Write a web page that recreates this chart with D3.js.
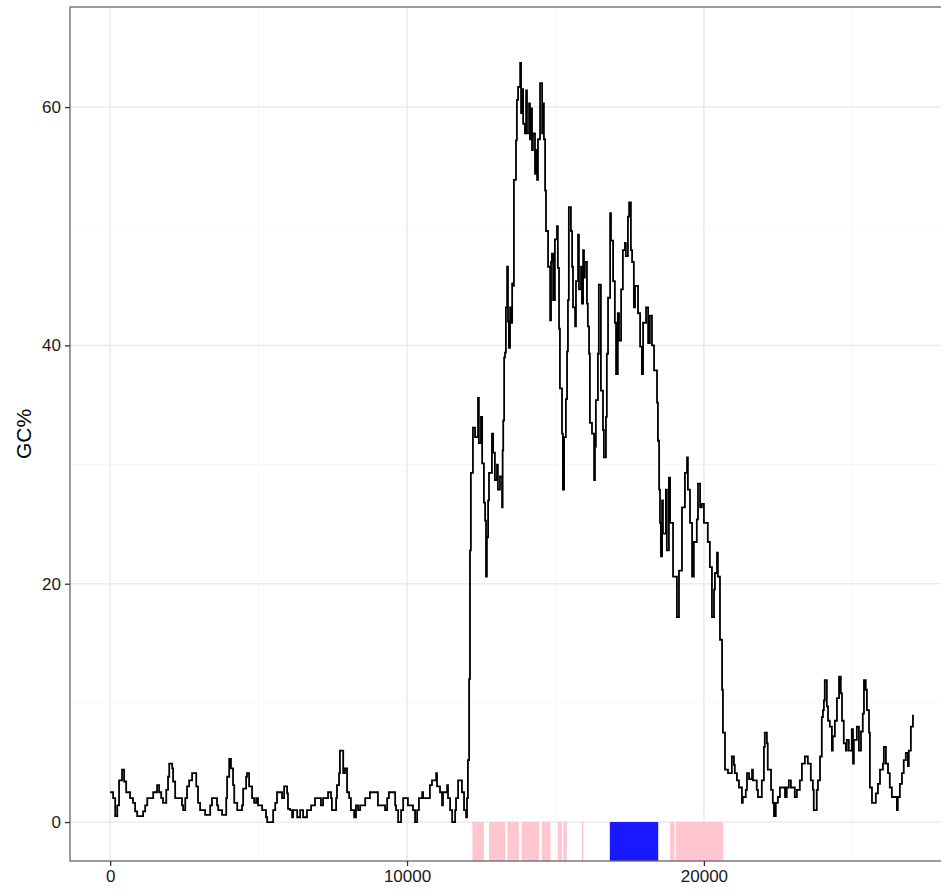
<!DOCTYPE html>
<html><head><meta charset="utf-8">
<script src="https://cdn.jsdelivr.net/npm/d3@7"></script>
<style>body{margin:0;background:#fff}svg{display:block}</style></head>
<body>
<svg id="c" width="941" height="894"></svg>
<script>
// ---- data ----
const pos = [0,100,170,240,300,400,470,540,670,770,840,910,1110,1180,1250,1450,1580,1650,1720,1780,1890,1950,1990,2090,2120,2190,2420,2460,2530,2590,2660,2760,2900,2960,3030,3200,3370,3430,3600,3640,3770,3910,3940,4010,4070,4140,4180,4280,4440,4480,4580,4610,4680,4780,4850,4920,4980,5120,5250,5290,5490,5560,5620,5790,5860,5960,5990,6060,6130,6160,6300,6400,6500,6630,6770,6900,7100,7170,7340,7440,7470,7610,7640,7710,7740,7850,7910,7980,8050,8110,8220,8280,8350,8420,8590,8750,9020,9260,9330,9390,9600,9630,9700,9800,9870,10030,10200,10270,10340,10400,10510,10540,10770,10840,10980,11010,11110,11180,11210,11350,11380,11450,11520,11620,11650,11720,11850,11920,11990,12020,12050,12090,12120,12150,12220,12290,12390,12420,12490,12530,12590,12630,12660,12690,12730,12760,12860,12900,12960,13030,13060,13130,13200,13220,13240,13270,13300,13330,13370,13400,13430,13470,13500,13540,13570,13600,13670,13700,13740,13810,13840,13870,13910,13970,14010,14040,14110,14140,14180,14210,14240,14310,14340,14380,14410,14480,14550,14580,14610,14650,14680,14750,14820,14850,14880,14920,14980,15050,15080,15120,15150,15220,15250,15290,15350,15390,15420,15450,15520,15560,15590,15660,15690,15760,15790,15860,15890,15930,15960,15990,16060,16090,16130,16160,16230,16300,16330,16360,16430,16460,16530,16600,16630,16700,16730,16770,16840,16870,16940,17000,17040,17100,17140,17210,17270,17340,17370,17440,17480,17540,17580,17640,17680,17780,17850,17910,17950,18050,18120,18180,18250,18320,18420,18450,18490,18520,18550,18590,18620,18720,18750,18820,18860,18960,19090,19160,19260,19360,19430,19460,19530,19600,19660,19760,19800,19870,19930,20000,20130,20200,20270,20340,20370,20440,20470,20540,20610,20640,20710,20810,20940,21010,21040,21110,21180,21280,21310,21410,21450,21520,21620,21650,21780,21820,21950,22020,22050,22120,22150,22260,22320,22360,22420,22490,22560,22730,22790,22860,22930,23060,23130,23230,23300,23400,23500,23600,23670,23700,23800,23840,23910,23970,24010,24040,24070,24140,24180,24240,24310,24340,24410,24480,24550,24610,24650,24710,24780,24810,24880,24980,25020,25050,25150,25220,25290,25350,25390,25450,25490,25560,25590,25660,25790,25860,25930,26030,26060,26130,26200,26260,26330,26500,26530,26600,26670,26730,26800,26870,26900,26970,27040];
const gc = [2.5,2.0,0.5,1.4,3.5,4.4,3.4,2.5,2.0,1.6,0.9,0.5,0.9,1.4,2.0,2.5,3.1,2.5,2.0,1.6,2.7,3.8,4.9,4.5,3.4,2.0,1.4,1.0,2.0,3.0,3.5,4.1,3.0,1.6,1.0,0.6,1.4,2.0,1.4,1.0,0.6,2.0,3.8,5.3,4.5,3.1,1.6,1.0,1.4,2.8,3.8,4.1,3.0,2.0,1.6,2.0,1.4,1.0,0.4,0.0,1.0,1.6,2.5,2.0,3.0,2.4,1.1,1.0,0.4,1.0,0.4,1.0,0.4,1.0,1.4,2.0,1.4,2.0,2.5,2.0,1.0,2.0,3.1,4.1,6.0,4.1,4.5,2.5,2.0,1.0,0.4,1.4,1.0,1.4,2.0,2.5,1.4,1.0,2.0,2.5,1.4,1.0,0.0,1.0,2.0,1.4,1.0,0.0,1.0,2.0,2.5,2.0,3.1,3.5,4.1,3.0,2.5,1.4,2.5,3.1,2.0,1.0,0.0,1.0,2.0,3.5,2.5,1.0,0.4,2.0,5.2,12.0,22.8,29.3,33.1,32.3,35.6,31.8,34.0,30.1,26.8,25.3,20.6,23.9,27.0,29.3,32.6,31.0,28.7,30.0,27.9,29.0,26.4,31.2,33.7,39.0,39.4,43.2,46.6,42.0,39.8,43.2,41.9,45.2,45.0,53.9,57.2,60.6,61.7,63.7,59.5,61.5,58.6,57.8,61.4,57.8,60.3,57.3,59.9,56.4,57.8,54.4,56.4,53.9,57.3,62.0,57.8,60.3,57.3,53.0,49.6,46.6,42.1,47.0,47.7,43.8,48.9,50.0,46.5,41.4,36.4,32.6,27.9,32.3,35.5,39.5,43.8,51.6,49.6,46.6,43.2,41.6,45.4,49.3,44.7,46.6,43.5,48.0,45.7,47.0,43.5,41.6,39.3,33.5,32.6,28.7,31.5,35.4,39.3,45.1,36.2,32.9,30.6,34.0,39.3,44.0,51.1,48.8,45.4,41.9,37.6,42.7,40.4,44.7,48.0,48.6,47.5,50.8,52.0,48.0,47.0,43.2,45.0,42.7,39.9,37.6,41.9,43.2,40.2,42.5,40.0,37.9,35.2,32.0,27.9,25.1,22.3,27.0,24.2,27.9,22.8,28.9,25.1,20.6,17.2,21.1,26.4,29.3,30.6,27.9,25.1,20.6,23.5,25.4,28.4,26.4,26.7,25.1,23.5,21.4,17.2,19.5,20.9,22.6,20.6,15.3,11.1,7.5,4.4,4.1,5.5,4.8,4.1,3.5,2.9,1.6,2.1,2.7,4.1,3.6,4.4,3.5,2.7,2.1,3.5,6.3,7.5,6.6,4.4,2.7,1.6,0.5,1.6,2.1,2.9,2.1,2.9,3.5,2.9,2.1,2.7,3.5,4.9,5.5,4.9,3.5,2.7,1.0,2.7,3.5,5.5,8.8,9.4,10.2,11.9,9.7,8.5,8.0,6.0,7.2,8.5,10.4,12.2,10.8,8.5,6.6,6.0,6.9,6.0,7.8,4.9,6.9,8.0,6.0,7.6,9.1,11.9,11.1,9.4,7.5,2.9,1.6,2.4,3.2,4.4,4.9,6.3,4.9,4.1,2.9,2.1,1.0,2.1,3.2,4.1,5.2,5.8,4.7,6.0,8.0,9.0];
const pinkStart = [12200,12760,13380,13860,14540,15070,15260,15890,18860,19060];
const pinkEnd   = [12590,13310,13770,14450,14830,15220,15380,15940,19010,20650];
const blueStart = [16830];
const blueEnd   = [18460];
const xMajor = [0,10000,20000];
const xMinor = [5000,15000,25000];
const yMajor = [0,20,40,60];
const yMinor = [10,30,50];
const yTitle = "GC%";

// ---- layout ----
const L=70, T=7, R=953, B=861;
const svg = d3.select("#c");
const x = d3.scaleLinear().domain([-1352, 28389]).range([L, R]);
const y = d3.scaleLinear().domain([-3.27, 68.4]).range([B, T]);

svg.append("defs").append("clipPath").attr("id","clip")
  .append("rect").attr("x",L).attr("y",T).attr("width",R-L).attr("height",B-T);

const g = svg.append("g").attr("clip-path","url(#clip)");
g.append("rect").attr("x",L).attr("y",T).attr("width",R-L).attr("height",B-T).attr("fill","#fff");

// grid
g.selectAll(".xmin").data(xMinor).join("line")
  .attr("x1",d=>x(d)).attr("x2",d=>x(d)).attr("y1",T).attr("y2",B)
  .attr("stroke","#f5f5f5").attr("stroke-width",0.8);
g.selectAll(".ymin").data(yMinor).join("line")
  .attr("y1",d=>y(d)).attr("y2",d=>y(d)).attr("x1",L).attr("x2",R)
  .attr("stroke","#f5f5f5").attr("stroke-width",0.8);
g.selectAll(".xmaj").data(xMajor).join("line")
  .attr("x1",d=>x(d)).attr("x2",d=>x(d)).attr("y1",T).attr("y2",B)
  .attr("stroke","#ebebeb").attr("stroke-width",1.5);
g.selectAll(".ymaj").data(yMajor).join("line")
  .attr("y1",d=>y(d)).attr("y2",d=>y(d)).attr("x1",L).attr("x2",R)
  .attr("stroke","#ebebeb").attr("stroke-width",1.5);

// rects
const pinkData = pinkStart.map((s,i)=>({s, e:pinkEnd[i]}));
const blueData = blueStart.map((s,i)=>({s, e:blueEnd[i]}));
g.selectAll(".pk").data(pinkData).join("rect")
  .attr("x",d=>x(d.s)).attr("width",d=>x(d.e)-x(d.s))
  .attr("y",y(0)).attr("height",B-y(0)+2)
  .attr("fill","pink").attr("fill-opacity",0.9);
g.selectAll(".bl").data(blueData).join("rect")
  .attr("x",d=>x(d.s)).attr("width",d=>x(d.e)-x(d.s))
  .attr("y",y(0)).attr("height",B-y(0)+2)
  .attr("fill","blue").attr("fill-opacity",0.9);

// line
const data = pos.map((p,i)=>[p,gc[i]]);
g.append("path").datum(data)
  .attr("d", d3.line().x(d=>x(d[0])).y(d=>y(d[1])).curve(d3.curveStepAfter))
  .attr("fill","none").attr("stroke","#000").attr("stroke-width",1.8);

// border
svg.append("rect").attr("x",L).attr("y",T).attr("width",R-L).attr("height",B-T)
  .attr("fill","none").attr("stroke","#666").attr("stroke-width",1.3);

// axes
const ax = svg.append("g").attr("transform",`translate(0,${B})`)
  .call(d3.axisBottom(x).tickValues(xMajor).tickFormat(d3.format("d")).tickSize(5).tickPadding(4));
const ay = svg.append("g").attr("transform",`translate(${L},0)`)
  .call(d3.axisLeft(y).tickValues(yMajor).tickFormat(d3.format("d")).tickSize(5).tickPadding(4));
[ax,ay].forEach(a=>{
  a.select(".domain").remove();
  a.selectAll(".tick line").attr("stroke","#333").attr("stroke-width",1.3);
  a.selectAll(".tick text").attr("fill","#1a1a1a")
    .style("font-family","'Liberation Sans', Arial, sans-serif").style("font-size","17px");
});

svg.append("text").text(yTitle)
  .attr("transform",`translate(31,${(T+B)/2}) rotate(-90)`)
  .attr("text-anchor","middle")
  .style("font-family","'Liberation Sans', Arial, sans-serif").style("font-size","21px")
  .attr("fill","#000");
</script>
</body></html>
